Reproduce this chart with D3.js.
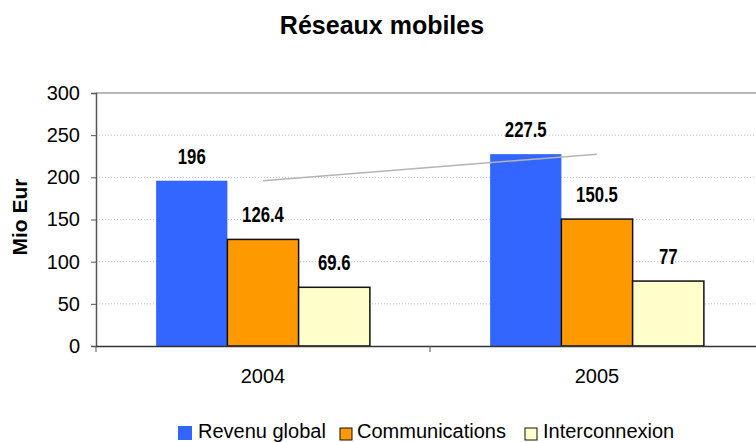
<!DOCTYPE html>
<html>
<head>
<meta charset="utf-8">
<script src="https://cdn.jsdelivr.net/npm/d3@7"></script>
<style>
  body { margin: 0; background: #fff; }
  text { font-family: "Liberation Sans", Arial, sans-serif; }
</style>
</head>
<body>
<svg id="drawing_region"></svg>
<script>
var years = ['2004', '2005'];
var seriesNames = ['Revenu global', 'Communications', 'Interconnexion'];
var revenuGlobal = [196, 227.5];
var communications = [126.4, 150.5];
var interconnexion = [69.6, 77];
var yTicks = [0, 50, 100, 150, 200, 250, 300];
var colors = ['#3366ff', '#ff9900', '#ffffcc'];

var width = 756, height = 442;
var margin = {left: 96, top: 93, right: -8, bottom: 96};

var svg = d3.select('#drawing_region')
    .attr('width', width)
    .attr('height', height);

var plotW = width - margin.left - margin.right;
var plotH = height - margin.top - margin.bottom;

var values = [revenuGlobal, communications, interconnexion];

var x0 = d3.scaleBand().domain(years).range([0, plotW]).paddingInner(0).paddingOuter(0);
var x1 = d3.scaleBand().domain(seriesNames).range([0, x0.bandwidth() * 0.64]);
var groupOffset = x0.bandwidth() * 0.18;
var y = d3.scaleLinear().domain([0, 300]).range([plotH, 0]);

// title
svg.append('text')
    .attr('x', 382).attr('y', 34)
    .attr('text-anchor', 'middle')
    .style('font-size', '25px').style('font-weight', 'bold')
    .text('Réseaux mobiles');

var chart = svg.append('g')
    .attr('transform', `translate(${margin.left}, ${margin.top})`);

// gridlines
chart.selectAll('.grid')
    .data(yTicks.filter(d => d > 0 && d < 300))
    .enter().append('line')
    .attr('x1', 0).attr('x2', plotW)
    .attr('y1', d => y(d)).attr('y2', d => y(d))
    .attr('stroke', '#c0c0c0')
    .attr('stroke-dasharray', '1,2');

chart.append('line')
    .attr('x1', 0).attr('x2', plotW)
    .attr('y1', 0).attr('y2', 0)
    .attr('stroke', '#a0a0a0').attr('stroke-width', 1.5);

// bars
seriesNames.forEach(function(s, i) {
  chart.selectAll('.bar' + i)
      .data(years)
      .enter().append('rect')
      .attr('x', d => x0(d) + groupOffset + x1(s))
      .attr('y', (d, j) => y(values[i][j]))
      .attr('width', x1.bandwidth())
      .attr('height', (d, j) => plotH - y(values[i][j]))
      .attr('fill', colors[i])
      .attr('stroke', i === 0 ? 'none' : '#111')
      .attr('stroke-width', i === 0 ? 0 : 1.5);

  // condensed bold labels (narrow font squeezed from Liberation Sans Bold)
  chart.selectAll('.lbl' + i)
      .data(years)
      .enter().append('text')
      .attr('transform', (d, j) => `translate(${x0(d) + groupOffset + x1(s) + x1.bandwidth() / 2}, ${y(values[i][j]) - 17}) scale(0.76, 1)`)
      .attr('text-anchor', 'middle')
      .style('font-size', '22px').style('font-weight', 'bold')
      .text((d, j) => values[i][j]);
});

// trend line of revenu global
var line = d3.line()
    .x((d, j) => x0(years[j]) + x0.bandwidth() / 2)
    .y(d => y(d));
chart.append('path')
    .datum(revenuGlobal)
    .attr('d', line)
    .attr('fill', 'none')
    .attr('stroke', '#b4b4b4')
    .attr('stroke-width', 1.5);

// y axis
var yAxis = chart.append('g')
    .call(d3.axisLeft(y).tickValues(yTicks).tickSize(5).tickPadding(11));
yAxis.select('.domain').attr('stroke', '#555').attr('stroke-width', 1.5);
yAxis.selectAll('.tick line').attr('stroke', '#555');
yAxis.selectAll('text').style('font-size', '20px').attr('fill', '#000')
    .style('font-family', '"Liberation Sans", Arial, sans-serif');

// x axis
var xAxis = chart.append('g')
    .attr('transform', `translate(0, ${plotH})`)
    .call(d3.axisBottom(x0).tickSize(0).tickPadding(23));
xAxis.select('.domain').attr('stroke', '#333').attr('stroke-width', 1.5);
xAxis.selectAll('text').style('font-size', '20px').attr('fill', '#000')
    .style('font-family', '"Liberation Sans", Arial, sans-serif');
xAxis.selectAll('.sep')
    .data(years)
    .enter().append('line')
    .attr('x1', d => x0(d)).attr('x2', d => x0(d))
    .attr('y1', 0).attr('y2', 6)
    .attr('stroke', '#555');

// y title
svg.append('text')
    .attr('transform', 'translate(27, 217) rotate(-90)')
    .attr('text-anchor', 'middle')
    .style('font-size', '21px').style('font-weight', 'bold')
    .text('Mio Eur');

// legend
var legendX = [178, 340, 525];
var legendSize = [14, 12, 12];
var legendTextX = [198, 357, 543];
var legend = svg.selectAll('.legend')
    .data(seriesNames)
    .enter().append('g');
legend.append('rect')
    .attr('x', (d, i) => legendX[i])
    .attr('y', (d, i) => 440 - legendSize[i])
    .attr('width', (d, i) => legendSize[i])
    .attr('height', (d, i) => legendSize[i])
    .attr('fill', (d, i) => colors[i])
    .attr('stroke', (d, i) => i === 0 ? 'none' : '#111');
legend.append('text')
    .attr('x', (d, i) => legendTextX[i]).attr('y', 438)
    .style('font-size', '20px')
    .text(d => d);
</script>
</body>
</html>
